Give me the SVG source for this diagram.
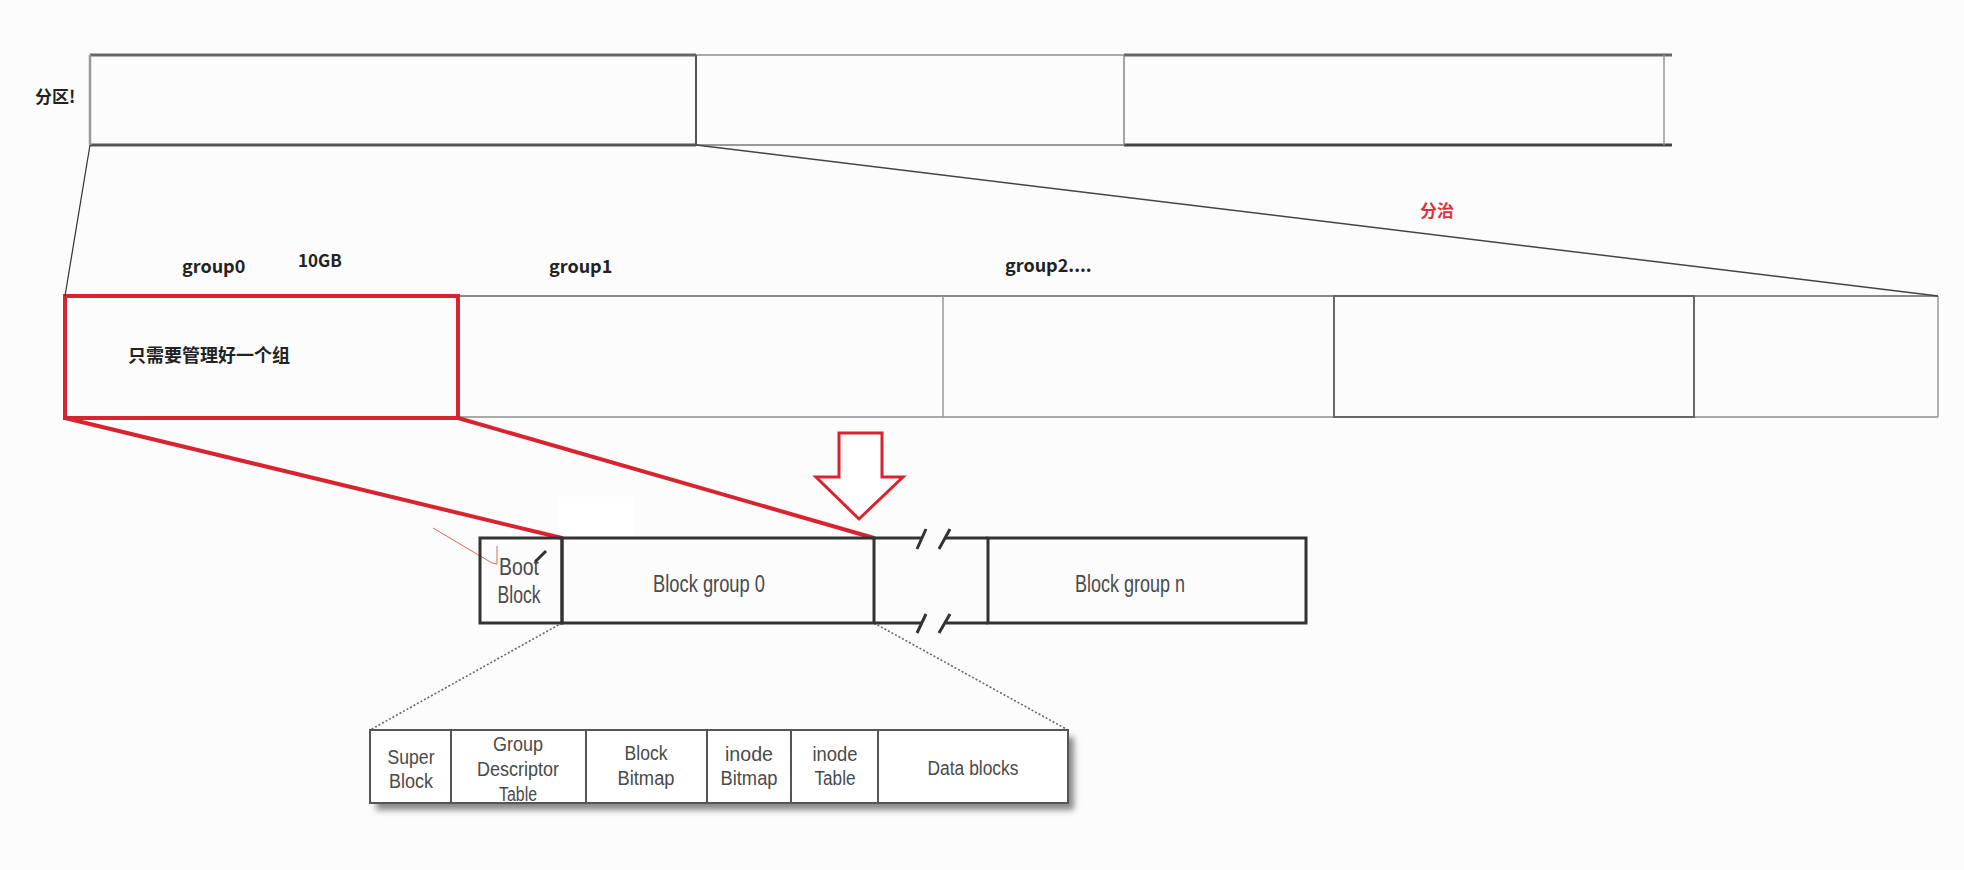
<svg xmlns="http://www.w3.org/2000/svg" width="1964" height="870" viewBox="0 0 1964 870">
<style>
.lbl{font-family:"Noto Sans CJK SC","Noto Sans",sans-serif;font-weight:bold;fill:#222}
.red{fill:#e0303a}
.blk{font-family:"Liberation Sans","DejaVu Sans",sans-serif;font-size:23px;fill:#4a4a4a;text-anchor:middle}
.tt{font-size:20px}
.box{fill:none;stroke:#333;stroke-width:3}
.tbl{fill:#fff;stroke:#555;stroke-width:2}
.dot{fill:none;stroke:#666;stroke-width:1.6;stroke-dasharray:2 2}
.redl{fill:none;stroke:#d82330;stroke-width:4}
</style>
<defs>
<filter id="sh" x="-10%" y="-30%" width="120%" height="160%"><feGaussianBlur stdDeviation="3"/></filter>
</defs>
<rect width="1964" height="870" fill="#fcfcfc"/>

<g id="partition">
<text class="lbl" x="35" y="103" font-size="17">分区!</text>
<line x1="90" y1="55" x2="696" y2="55" stroke="#666" stroke-width="3"/>
<line x1="90" y1="145" x2="696" y2="145" stroke="#555" stroke-width="3"/>
<line x1="696" y1="55" x2="1124" y2="55" stroke="#aaa" stroke-width="2"/>
<line x1="696" y1="145" x2="1124" y2="145" stroke="#999" stroke-width="2"/>
<line x1="1124" y1="55" x2="1672" y2="55" stroke="#666" stroke-width="3"/>
<line x1="1124" y1="145" x2="1672" y2="145" stroke="#444" stroke-width="3"/>
<line x1="90" y1="55" x2="90" y2="145" stroke="#999" stroke-width="2.5"/>
<line x1="696" y1="55" x2="696" y2="145" stroke="#555" stroke-width="2"/>
<line x1="1124" y1="55" x2="1124" y2="145" stroke="#888" stroke-width="1.5"/>
<line x1="1664" y1="55" x2="1664" y2="145" stroke="#999" stroke-width="1.5"/>
</g>

<g id="groups">
<text class="lbl" x="182" y="273" font-size="18">group0</text>
<text class="lbl" x="298" y="267" font-size="17">10GB</text>
<text class="lbl" x="549" y="273" font-size="18">group1</text>
<text class="lbl" x="1005" y="272" font-size="18">group2....</text>
<text class="lbl red" x="1420" y="217" font-size="17">分治</text>
<line x1="458" y1="296" x2="1938" y2="296" stroke="#888" stroke-width="2"/>
<line x1="458" y1="417" x2="1938" y2="417" stroke="#aaa" stroke-width="2"/>
<line x1="943" y1="296" x2="943" y2="417" stroke="#999" stroke-width="1.5"/>
<rect x="1334" y="296" width="360" height="121" fill="none" stroke="#666" stroke-width="2"/>
<line x1="1938" y1="296" x2="1938" y2="417" stroke="#999" stroke-width="1.5"/>
</g>

<g id="group0">
<rect x="65" y="296" width="393" height="122" class="redl"/>
<text class="lbl" x="128" y="362" font-size="18">只需要管理好一个组</text>
</g>

<g id="arrow">
<polygon points="839,433 882,433 882,477 903,477 859,519 816,477 839,477" fill="#fff" stroke="#d82330" stroke-width="3" stroke-linejoin="miter"/>
</g>

<rect x="558" y="497" width="77" height="40" fill="#fff"/>

<g id="connectors">
<line x1="90" y1="145" x2="65" y2="296" stroke="#333" stroke-width="1.2"/>
<line x1="696" y1="145" x2="1938" y2="296" stroke="#444" stroke-width="1.5"/>
<line x1="65" y1="418" x2="562" y2="538" class="redl"/>
<line x1="458" y1="418" x2="874" y2="538" class="redl"/>
<line x1="562" y1="623" x2="370" y2="730" class="dot"/>
<line x1="874" y1="623" x2="1068" y2="730" class="dot"/>
<path d="M433,528 L492,563 L497,564 L497,546" fill="none" stroke="#d66" stroke-width="1"/>
</g>

<g id="bootblock">
<rect x="480" y="538" width="82" height="85" class="box"/>
<text class="blk" x="519" y="575" textLength="40" lengthAdjust="spacingAndGlyphs">Boot</text>
<text class="blk" x="519" y="603" textLength="43" lengthAdjust="spacingAndGlyphs">Block</text>
<line x1="535" y1="562" x2="546" y2="551" stroke="#333" stroke-width="3"/>
</g>

<g id="blockgroup0">
<rect x="562" y="538" width="312" height="85" class="box"/>
<text class="blk" x="709" y="592" textLength="112" lengthAdjust="spacingAndGlyphs">Block group 0</text>
</g>

<g id="gap">
<path d="M874,538 H921 M946,538 H988 M874,623 H921 M946,623 H988" stroke="#333" stroke-width="3" fill="none"/>
<path d="M917,549 L926,529 M939,549 L950,529 M917,633 L926,614 M939,633 L950,614" stroke="#333" stroke-width="3" fill="none"/>
</g>

<g id="blockgroupn">
<rect x="988" y="538" width="318" height="85" class="box"/>
<text class="blk" x="1130" y="592" textLength="110" lengthAdjust="spacingAndGlyphs">Block group n</text>
</g>

<g id="table">
<rect x="376" y="737" width="698" height="73" fill="#888" filter="url(#sh)"/>
<rect x="370" y="730" width="698" height="73" class="tbl"/>
<line x1="451" y1="730" x2="451" y2="803" stroke="#555" stroke-width="2"/>
<line x1="586" y1="730" x2="586" y2="803" stroke="#555" stroke-width="2"/>
<line x1="707" y1="730" x2="707" y2="803" stroke="#555" stroke-width="2"/>
<line x1="791" y1="730" x2="791" y2="803" stroke="#555" stroke-width="2"/>
<line x1="878" y1="730" x2="878" y2="803" stroke="#555" stroke-width="2"/>
<g id="superblock">
<text class="blk tt" x="411" y="764" textLength="47" lengthAdjust="spacingAndGlyphs">Super</text>
<text class="blk tt" x="411" y="788" textLength="44" lengthAdjust="spacingAndGlyphs">Block</text>
</g>
<g id="gdt">
<text class="blk tt" x="518" y="751" textLength="50" lengthAdjust="spacingAndGlyphs">Group</text>
<text class="blk tt" x="518" y="776" textLength="82" lengthAdjust="spacingAndGlyphs">Descriptor</text>
<text class="blk tt" x="518" y="801" textLength="38" lengthAdjust="spacingAndGlyphs">Table</text>
</g>
<g id="blockbitmap">
<text class="blk tt" x="646" y="760" textLength="43" lengthAdjust="spacingAndGlyphs">Block</text>
<text class="blk tt" x="646" y="785" textLength="57" lengthAdjust="spacingAndGlyphs">Bitmap</text>
</g>
<g id="inodebitmap">
<text class="blk tt" x="749" y="761" textLength="48" lengthAdjust="spacingAndGlyphs">inode</text>
<text class="blk tt" x="749" y="785" textLength="57" lengthAdjust="spacingAndGlyphs">Bitmap</text>
</g>
<g id="inodetable">
<text class="blk tt" x="835" y="761" textLength="45" lengthAdjust="spacingAndGlyphs">inode</text>
<text class="blk tt" x="835" y="785" textLength="41" lengthAdjust="spacingAndGlyphs">Table</text>
</g>
<g id="datablocks">
<text class="blk tt" x="973" y="775" textLength="91" lengthAdjust="spacingAndGlyphs">Data blocks</text>
</g>
</g>
</svg>
